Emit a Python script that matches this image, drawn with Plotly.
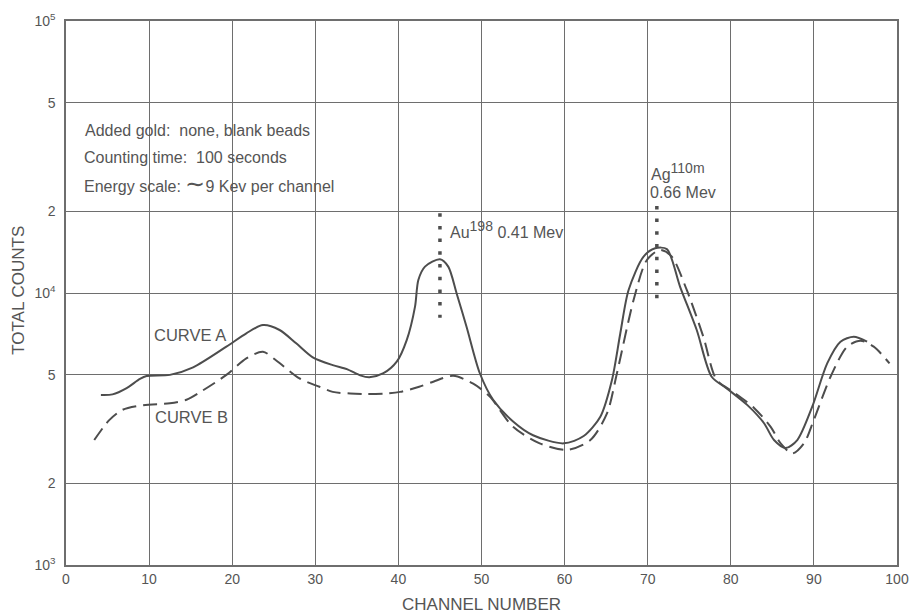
import plotly.graph_objects as go

# Curve A (solid)
curve_a_x = [4.2, 5.6, 7.3, 8.9, 9.7, 12.5, 15.3, 19.3, 21.7, 23.7, 25.7, 27.7, 29.7, 32.1, 33.8,
             35.4, 36.5, 38.2, 39.8, 41.0, 42.0, 42.4, 43.2, 45.0, 46.0, 47.0, 48.2, 49.8, 51.4,
             53.8, 56.2, 59.9, 62.3, 64.3, 65.7, 66.7, 67.7, 69.5, 70.9, 72.3, 73.9, 75.9, 77.7,
             79.5, 82.0, 84.0, 85.2, 86.6, 88.0, 89.8, 91.6, 93.2, 94.8, 96.4]
curve_a_y = [4220, 4240, 4470, 4830, 4950, 5000, 5330, 6350, 7110, 7620, 7310, 6530, 5800, 5430, 5250,
             4980, 4900, 5070, 5590, 6710, 8910, 11170, 12500, 13300, 12500, 9980, 7520, 5070, 4050,
             3370, 3000, 2800, 2980, 3510, 4790, 7100, 10260, 13600, 14600, 14500, 10540, 7310, 4920,
             4460, 3870, 3320, 2880, 2690, 2880, 3820, 5510, 6620, 6900, 6620]

# Curve B (dashed)
curve_b_x = [3.4, 5.2, 6.8, 9.3, 12.5, 14.5, 16.5, 19.3, 21.7, 23.7, 25.3, 28.1, 30.5, 32.1, 34.2,
             36.2, 38.5, 40.2, 42.5, 44.2, 46.6, 49.0, 51.0, 53.8, 57.0, 60.3, 63.1, 65.1, 66.3,
             68.3, 69.9, 71.5, 72.9, 74.7, 76.7, 78.3, 80.3, 82.8, 84.8, 86.0, 87.4, 88.8, 90.0,
             92.0, 94.0, 95.6, 97.2, 99.1]
curve_b_y = [2880, 3410, 3720, 3870, 3930, 4050, 4390, 5000, 5750, 6080, 5650, 4850, 4520, 4330, 4270,
             4250, 4270, 4330, 4520, 4720, 4960, 4640, 4160, 3220, 2800, 2650, 2880, 3610, 5070,
             9420, 13220, 14400, 13600, 10260, 6900, 4790, 4330, 3780, 3220, 2800, 2570, 2800, 3420,
             4920, 6350, 6680, 6350, 5510]

# Peak marker lines (dotted)
au_x = [45.0, 45.0]
au_y = [19650, 8110]
ag_x = [71.1, 71.1]
ag_y = [20900, 9520]

x_ticks = [0, 10, 20, 30, 40, 50, 60, 70, 80, 90, 100]
y_tick_vals = [1000, 2000, 5000, 10000, 20000, 50000, 100000]
y_tick_text = ["10<sup>3</sup>", "2", "5", "10<sup>4</sup>", "2", "5", "10<sup>5</sup>"]

ink = "#4d4d4d"
txt = "#555555"
grid = "#6e6e6e"
font_family = "Liberation Sans, Arial, sans-serif"

fig = go.Figure()
fig.add_trace(go.Scatter(x=curve_a_x, y=curve_a_y, mode="lines", line=dict(color=ink, width=2, shape="spline", smoothing=0.8),
                         showlegend=False, hoverinfo="skip"))
fig.add_trace(go.Scatter(x=curve_b_x, y=curve_b_y, mode="lines",
                         line=dict(color=ink, width=2, shape="spline", smoothing=0.8, dash="14px,7px"),
                         showlegend=False, hoverinfo="skip"))
for xs, ys in [(au_x, au_y), (ag_x, ag_y)]:
    fig.add_trace(go.Scatter(x=xs, y=ys, mode="lines", line=dict(color=ink, width=3.5, dash="3.5px,9.2px"),
                             showlegend=False, hoverinfo="skip"))

ann = []
def add_text(x, y, text, size=16, xanchor="left", yanchor="middle", xref="x", yref="y", angle=0):
    ann.append(dict(x=x, y=y, xref=xref, yref=yref, text=text, showarrow=False, xanchor=xanchor,
                    yanchor=yanchor, textangle=angle, font=dict(size=size, color=txt, family=font_family)))

sup = "<sup><span style='font-size:14px'>{}</span></sup>"
add_text(2.1, 4.599, "Added gold:  none, blank beads")
add_text(1.9, 4.500, "Counting time:  100 seconds")
add_text(1.9, 4.403, "Energy scale: <span style='font-size:24px'>∼</span>9 Kev per channel")
add_text(46.0, 4.232, "Au" + sup.format("198") + " 0.41 Mev")
add_text(70.2, 4.445, "Ag" + sup.format("110m"))
add_text(70.0, 4.369, "0.66 Mev")
add_text(10.4, 3.846, "CURVE A", size=16.5)
add_text(10.5, 3.545, "CURVE B", size=16.5)
add_text(-0.058, 0.5055, "TOTAL COUNTS", size=17, xanchor="center", xref="paper", yref="paper", angle=-90)
add_text(0.5, -0.072, "CHANNEL NUMBER", size=17, xanchor="center", xref="paper", yref="paper")

fig.update_layout(
    width=912, height=615,
    margin=dict(l=66, r=15, t=21, b=50, autoexpand=False),
    paper_bgcolor="white", plot_bgcolor="white",
    annotations=ann,
    xaxis=dict(range=[0, 100], tickvals=x_ticks, showgrid=True, gridcolor=grid, gridwidth=1,
               showline=True, linecolor=grid, linewidth=1.5, mirror=True, zeroline=False,
               ticks="", ticklabeloverflow="allow", automargin=False,
               tickfont=dict(size=14, color=txt, family=font_family)),
    yaxis=dict(type="log", range=[3, 5], tickvals=y_tick_vals, ticktext=y_tick_text,
               showgrid=True, gridcolor=grid, gridwidth=1, showline=True, linecolor=grid, linewidth=1.5,
               mirror=True, zeroline=False, ticks="", ticklabelstandoff=6, automargin=False,
               tickfont=dict(size=14, color=txt, family=font_family)),
)

fig.write_html("out.html")
